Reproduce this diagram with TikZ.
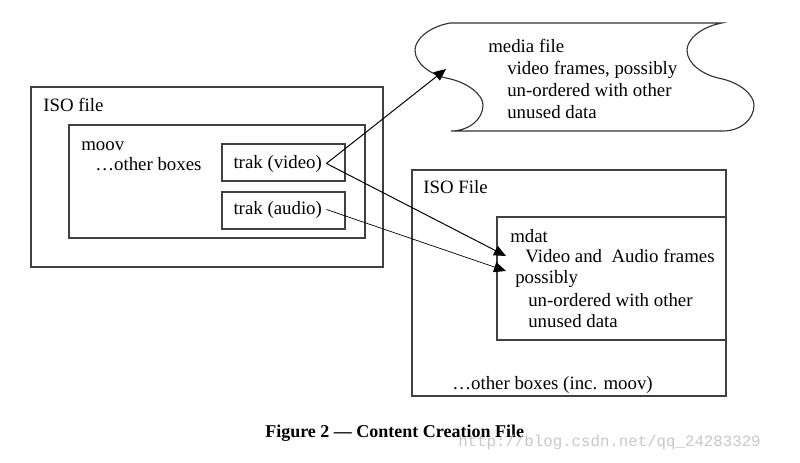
\documentclass[tikz,border=0pt]{standalone}
\usepackage{fontspec}
\setmainfont{Liberation Serif}
\setmonofont{Liberation Mono}
\usetikzlibrary{arrows.meta, fit}

\begin{document}
\begin{tikzpicture}[x=0.025cm, y=-0.025cm,
    box/.style={draw=black!75, line width=0.8pt, inner sep=0pt},
    txt/.style={anchor=base west, inner sep=0pt, font=\fontsize{13.4}{15.6}\selectfont},
    link/.style={line width=0.7pt, -{Triangle[length=3mm, width=2.6mm]}}]
    \useasboundingbox (0,0) rectangle (800,462);

    \node[box, fit={(31,87) (383,267)}] (isoA) {};
    \node[box, fit={(69,125) (365,238)}] (moov) {};
    \node[box, fit={(222,144) (345,181)}] (tvid) {};
    \node[box, fit={(222,192) (345,229)}] (taud) {};
    \node[box, fit={(412,170) (726,396)}] (isoB) {};
    \node[box, fit={(497,217) (726,340)}] (mdat) {};

    \draw[black!80, line width=0.8pt] (450,23) -- (722,23)
        .. controls (700,27) and (687,40) .. (687,50)
        .. controls (687,65) and (705,75) .. (718,78)
        .. controls (740,82) and (754,95) .. (754,105)
        .. controls (754,120) and (740,131) .. (723,131) -- (451,131)
        .. controls (468,131) and (483,120) .. (483,105)
        .. controls (483,95) and (468,82) .. (446,78)
        .. controls (433,75) and (415,65) .. (415,50)
        .. controls (415,40) and (428,27) .. (450,23) -- cycle;

    \node[txt] (isoAtxt) at (43,111) {ISO file};
    \node[txt] (moovtxt) at (81,150) {moov};
    \node[txt] (othtxt) at (95,170) {\dots other boxes};
    \node[txt, inner sep=3pt] (vidtxt) at (229,168) {trak (video)};
    \node[txt, inner sep=3pt] (audtxt) at (229,214) {trak (audio)};

    \node[txt] (med1) at (488,52) {media file};
    \node[txt] (med2) at (507,74) {video frames, possibly};
    \node[txt] (med3) at (507,96) {un-ordered with other};
    \node[txt] (med4) at (507,118) {unused data};

    \node[txt] (isoBtxt) at (423,193) {ISO File};
    \node[txt] (mdat1) at (510,242) {mdat};
    \node[txt] (mdat2) at (525,262) {Video and~ Audio frames};
    \node[txt] (mdat3) at (515,283) {possibly};
    \node[txt] (mdat4) at (528,306) {un-ordered with other};
    \node[txt] (mdat5) at (528,327) {unused data};
    \node[txt] (isoBoth) at (452,389) {\dots other boxes (inc. moov)};

    \coordinate (media) at (446,69);
    \coordinate (vin) at (506,256);
    \coordinate (ain) at (506,271);

    \draw[link] (vidtxt.east) -- (media);
    \draw[link] (vidtxt.east) -- (vin);
    \draw[link, line width=0.5pt] (audtxt.east) -- (ain);

    \node[anchor=base west, inner sep=0pt, font=\bfseries\fontsize{12.8}{15}\selectfont] (cap) at (265,437) {Figure 2 — Content Creation File};
    \node[anchor=base west, inner sep=0pt, text=black!22, font=\ttfamily\fontsize{11.2}{13}\selectfont] (mark) at (458,446) {http://blog.csdn.net/qq\_24283329};
\end{tikzpicture}
\end{document}
